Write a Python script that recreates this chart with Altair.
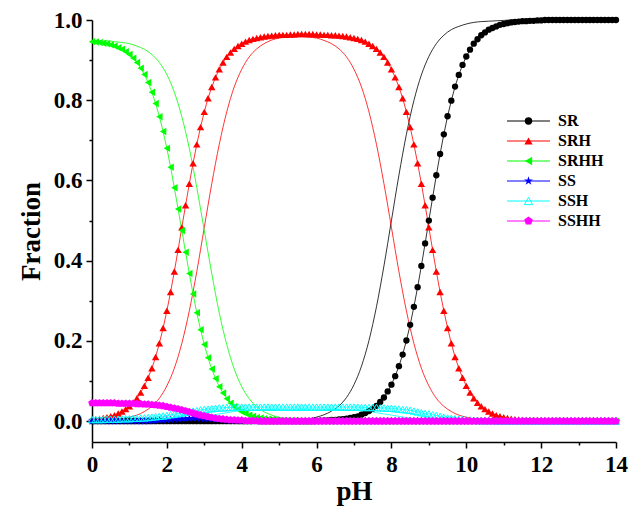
import altair as alt
import pandas as pd

# ---------------- data ----------------
PH = [
    0.0, 0.1, 0.2, 0.3, 0.4, 0.5, 0.6, 0.7, 0.8, 0.9,
    1.0, 1.1, 1.2, 1.3, 1.4, 1.5, 1.6, 1.7, 1.8, 1.9,
    2.0, 2.1, 2.2, 2.3, 2.4, 2.5, 2.6, 2.7, 2.8, 2.9,
    3.0, 3.1, 3.2, 3.3, 3.4, 3.5, 3.6, 3.7, 3.8, 3.9,
    4.0, 4.1, 4.2, 4.3, 4.4, 4.5, 4.6, 4.7, 4.8, 4.9,
    5.0, 5.1, 5.2, 5.3, 5.4, 5.5, 5.6, 5.7, 5.8, 5.9,
    6.0, 6.1, 6.2, 6.3, 6.4, 6.5, 6.6, 6.7, 6.8, 6.9,
    7.0, 7.1, 7.2, 7.3, 7.4, 7.5, 7.6, 7.7, 7.8, 7.9,
    8.0, 8.1, 8.2, 8.3, 8.4, 8.5, 8.6, 8.7, 8.8, 8.9,
    9.0, 9.1, 9.2, 9.3, 9.4, 9.5, 9.6, 9.7, 9.8, 9.9,
    10.0, 10.1, 10.2, 10.3, 10.4, 10.5, 10.6, 10.7, 10.8, 10.9,
    11.0, 11.1, 11.2, 11.3, 11.4, 11.5, 11.6, 11.7, 11.8, 11.9,
    12.0, 12.1, 12.2, 12.3, 12.4, 12.5, 12.6, 12.7, 12.8, 12.9,
    13.0, 13.1, 13.2, 13.3, 13.4, 13.5, 13.6, 13.7, 13.8, 13.9,
    14.0,
]

SR = [
    0, 0, 0, 0, 0, 0, 0, 0, 0, 0,
    0, 0, 0, 0, 0, 0, 0, 0, 0, 0,
    0, 0, 0, 0, 0, 0, 0, 0, 0, 0,
    0, 0, 0, 0, 0, 0, 0, 0, 0, 0,
    0, 0, 0, 0, 0, 0, 0, 0, 0, 0,
    0, 0, 0, 0, 0, 0, 0, 0, 0, 0,
    0.001, 0.001, 0.002, 0.002, 0.003, 0.003, 0.004, 0.005, 0.006, 0.008,
    0.010, 0.012, 0.016, 0.020, 0.025, 0.031, 0.038, 0.048, 0.059, 0.074,
    0.091, 0.112, 0.137, 0.166, 0.201, 0.240, 0.285, 0.334, 0.387, 0.443,
    0.500, 0.557, 0.613, 0.666, 0.715, 0.760, 0.799, 0.834, 0.863, 0.888,
    0.909, 0.926, 0.941, 0.952, 0.962, 0.969, 0.976, 0.980, 0.984, 0.988,
    0.990, 0.992, 0.994, 0.995, 0.996, 0.997, 0.997, 0.998, 0.998, 0.999,
    0.999, 1.0, 1.0, 1.0, 1.0, 1.0, 1.0, 1.0, 1.0, 1.0,
    1.0, 1.0, 1.0, 1.0, 1.0, 1.0, 1.0, 1.0, 1.0, 1.0,
    1.0,
]

SRH = [
    0.004, 0.005, 0.006, 0.008, 0.010, 0.012, 0.015, 0.019, 0.024, 0.030,
    0.037, 0.046, 0.057, 0.071, 0.088, 0.108, 0.132, 0.160, 0.194, 0.232,
    0.275, 0.322, 0.373, 0.427, 0.483, 0.538, 0.592, 0.643, 0.690, 0.733,
    0.771, 0.805, 0.833, 0.857, 0.877, 0.894, 0.908, 0.919, 0.928, 0.935,
    0.941, 0.946, 0.950, 0.953, 0.955, 0.957, 0.959, 0.960, 0.961, 0.962,
    0.963, 0.963, 0.963, 0.964, 0.964, 0.965, 0.965, 0.965, 0.965, 0.965,
    0.964, 0.964, 0.963, 0.963, 0.962, 0.962, 0.961, 0.960, 0.959, 0.957,
    0.955, 0.953, 0.950, 0.946, 0.941, 0.935, 0.928, 0.919, 0.908, 0.894,
    0.877, 0.857, 0.833, 0.805, 0.771, 0.733, 0.690, 0.643, 0.592, 0.538,
    0.483, 0.427, 0.373, 0.322, 0.275, 0.232, 0.194, 0.160, 0.132, 0.108,
    0.088, 0.071, 0.057, 0.046, 0.037, 0.030, 0.024, 0.019, 0.015, 0.012,
    0.010, 0.008, 0.006, 0.005, 0.004, 0.003, 0.002, 0.002, 0.002, 0.001,
    0.001, 0, 0, 0, 0, 0, 0, 0, 0, 0,
    0, 0, 0, 0, 0, 0, 0, 0, 0, 0,
    0,
]

SRHH = [
    0.946, 0.945, 0.944, 0.942, 0.941, 0.938, 0.935, 0.931, 0.927, 0.921,
    0.914, 0.905, 0.894, 0.880, 0.864, 0.844, 0.820, 0.792, 0.759, 0.722,
    0.680, 0.633, 0.582, 0.529, 0.475, 0.421, 0.368, 0.317, 0.270, 0.228,
    0.191, 0.158, 0.130, 0.106, 0.086, 0.070, 0.056, 0.045, 0.036, 0.029,
    0.023, 0.019, 0.015, 0.012, 0.009, 0.008, 0.006, 0.005, 0.004, 0.003,
    0.002, 0.002, 0.002, 0.001, 0.001, 0, 0, 0, 0, 0,
    0, 0, 0, 0, 0, 0, 0, 0, 0, 0,
    0, 0, 0, 0, 0, 0, 0, 0, 0, 0,
    0, 0, 0, 0, 0, 0, 0, 0, 0, 0,
    0, 0, 0, 0, 0, 0, 0, 0, 0, 0,
    0, 0, 0, 0, 0, 0, 0, 0, 0, 0,
    0, 0, 0, 0, 0, 0, 0, 0, 0, 0,
    0, 0, 0, 0, 0, 0, 0, 0, 0, 0,
    0, 0, 0, 0, 0, 0, 0, 0, 0, 0,
    0,
]

SS = [
    0, 0, 0, 0, 0, 0, 0, 0, 0, 0,
    0, 0, 0, 0, 0, 0, 0.001, 0.001, 0.002, 0.002,
    0.003, 0.004, 0.005, 0.005, 0.006, 0.006, 0.007, 0.007, 0.007, 0.007,
    0.006, 0.006, 0.005, 0.004, 0.004, 0.003, 0.002, 0.002, 0.001, 0.001,
    0, 0, 0, 0, 0, 0, 0, 0, 0, 0,
    0, 0, 0, 0, 0, 0, 0, 0, 0, 0,
    0, 0, 0, 0, 0, 0, 0, 0, 0, 0,
    0, 0, 0, 0, 0, 0, 0, 0, 0, 0,
    0, 0, 0, 0, 0, 0, 0, 0, 0, 0,
    0, 0, 0, 0, 0, 0, 0, 0, 0, 0,
    0, 0, 0, 0, 0, 0, 0, 0, 0, 0,
    0, 0, 0, 0, 0, 0, 0, 0, 0, 0,
    0, 0, 0, 0, 0, 0, 0, 0, 0, 0,
    0, 0, 0, 0, 0, 0, 0, 0, 0, 0,
    0,
]

SSH = [
    0.004, 0.004, 0.004, 0.004, 0.005, 0.005, 0.005, 0.005, 0.006, 0.006,
    0.006, 0.007, 0.007, 0.008, 0.008, 0.009, 0.010, 0.011, 0.012, 0.013,
    0.014, 0.016, 0.017, 0.019, 0.020, 0.022, 0.023, 0.025, 0.026, 0.028,
    0.029, 0.030, 0.031, 0.032, 0.033, 0.033, 0.034, 0.034, 0.035, 0.035,
    0.035, 0.035, 0.035, 0.035, 0.035, 0.035, 0.035, 0.035, 0.035, 0.035,
    0.035, 0.035, 0.035, 0.035, 0.035, 0.035, 0.035, 0.035, 0.035, 0.035,
    0.035, 0.035, 0.035, 0.035, 0.035, 0.035, 0.035, 0.035, 0.035, 0.035,
    0.035, 0.035, 0.034, 0.034, 0.034, 0.034, 0.034, 0.033, 0.033, 0.032,
    0.032, 0.031, 0.030, 0.029, 0.028, 0.027, 0.025, 0.023, 0.021, 0.019,
    0.018, 0.016, 0.014, 0.012, 0.010, 0.008, 0.007, 0.006, 0.005, 0.004,
    0.003, 0.003, 0.002, 0.002, 0.001, 0.001, 0.001, 0.001, 0.001, 0,
    0, 0, 0, 0, 0, 0, 0, 0, 0, 0,
    0, 0, 0, 0, 0, 0, 0, 0, 0, 0,
    0, 0, 0, 0, 0, 0, 0, 0, 0, 0,
    0,
]

SSHH = [
    0.045, 0.045, 0.045, 0.045, 0.045, 0.045, 0.045, 0.044, 0.044, 0.044,
    0.044, 0.044, 0.043, 0.043, 0.042, 0.042, 0.041, 0.040, 0.039, 0.038,
    0.036, 0.034, 0.032, 0.030, 0.028, 0.025, 0.023, 0.020, 0.017, 0.015,
    0.013, 0.011, 0.009, 0.007, 0.006, 0.005, 0.004, 0.003, 0.003, 0.002,
    0.002, 0.001, 0.001, 0.001, 0.001, 0, 0, 0, 0, 0,
    0, 0, 0, 0, 0, 0, 0, 0, 0, 0,
    0, 0, 0, 0, 0, 0, 0, 0, 0, 0,
    0, 0, 0, 0, 0, 0, 0, 0, 0, 0,
    0, 0, 0, 0, 0, 0, 0, 0, 0, 0,
    0, 0, 0, 0, 0, 0, 0, 0, 0, 0,
    0, 0, 0, 0, 0, 0, 0, 0, 0, 0,
    0, 0, 0, 0, 0, 0, 0, 0, 0, 0,
    0, 0, 0, 0, 0, 0, 0, 0, 0, 0,
    0, 0, 0, 0, 0, 0, 0, 0, 0, 0,
    0,
]

# thin (unmarked) curves, read every 0.2 pH
PH2 = [
    0.0, 0.2, 0.4, 0.6, 0.8, 1.0, 1.2, 1.4, 1.6, 1.8,
    2.0, 2.2, 2.4, 2.6, 2.8, 3.0, 3.2, 3.4, 3.6, 3.8,
    4.0, 4.2, 4.4, 4.6, 4.8, 5.0, 5.2, 5.4, 5.6, 5.8,
    6.0, 6.2, 6.4, 6.6, 6.8, 7.0, 7.2, 7.4, 7.6, 7.8,
    8.0, 8.2, 8.4, 8.6, 8.8, 9.0, 9.2, 9.4, 9.6, 9.8,
    10.0, 10.2, 10.4, 10.6, 10.8, 11.0, 11.2, 11.4, 11.6, 11.8,
    12.0, 12.2, 12.4, 12.6, 12.8, 13.0, 13.2, 13.4, 13.6, 13.8,
    14.0,
]

SR_T = [
    0, 0, 0, 0, 0, 0, 0, 0, 0, 0,
    0, 0, 0, 0, 0, 0, 0, 0, 0, 0,
    0, 0, 0, 0, 0, 0.001, 0.002, 0.003, 0.004, 0.006,
    0.010, 0.016, 0.025, 0.038, 0.059, 0.091, 0.137, 0.201, 0.285, 0.387,
    0.500, 0.613, 0.715, 0.799, 0.863, 0.909, 0.941, 0.962, 0.976, 0.984,
    0.990, 0.994, 0.996, 0.997, 0.998, 0.999, 1.0, 1.0, 1.0, 1.0,
    1.0, 1.0, 1.0, 1.0, 1.0, 1.0, 1.0, 1.0, 1.0, 1.0,
    1.0,
]

SRH_T = [
    0.001, 0.002, 0.002, 0.004, 0.006, 0.010, 0.015, 0.024, 0.037, 0.057,
    0.088, 0.132, 0.194, 0.275, 0.373, 0.483, 0.592, 0.690, 0.771, 0.833,
    0.877, 0.908, 0.928, 0.941, 0.950, 0.955, 0.957, 0.959, 0.959, 0.957,
    0.955, 0.949, 0.941, 0.928, 0.908, 0.877, 0.833, 0.771, 0.690, 0.592,
    0.483, 0.373, 0.275, 0.194, 0.132, 0.088, 0.057, 0.037, 0.024, 0.015,
    0.010, 0.006, 0.004, 0.002, 0.002, 0.001, 0, 0, 0, 0,
    0, 0, 0, 0, 0, 0, 0, 0, 0, 0,
    0,
]

SRHH_T = [
    0.949, 0.948, 0.948, 0.946, 0.944, 0.941, 0.935, 0.927, 0.914, 0.894,
    0.864, 0.820, 0.759, 0.680, 0.582, 0.475, 0.368, 0.270, 0.191, 0.130,
    0.086, 0.056, 0.036, 0.023, 0.015, 0.009, 0.006, 0.004, 0.002, 0.002,
    0.001, 0, 0, 0, 0, 0, 0, 0, 0, 0,
    0, 0, 0, 0, 0, 0, 0, 0, 0, 0,
    0, 0, 0, 0, 0, 0, 0, 0, 0, 0,
    0, 0, 0, 0, 0, 0, 0, 0, 0, 0,
    0,
]

SS_T = [
    0, 0, 0, 0, 0, 0, 0, 0, 0, 0,
    0.001, 0.002, 0.003, 0.004, 0.005, 0.005, 0.005, 0.004, 0.003, 0.002,
    0.001, 0.001, 0, 0, 0, 0, 0, 0, 0, 0,
    0, 0, 0, 0, 0, 0, 0, 0, 0, 0,
    0, 0, 0, 0, 0, 0, 0, 0, 0, 0,
    0, 0, 0, 0, 0, 0, 0, 0, 0, 0,
    0, 0, 0, 0, 0, 0, 0, 0, 0, 0,
    0,
]

SSH_T = [
    0, 0, 0, 0, 0, 0, 0, 0, 0.001, 0.001,
    0.002, 0.003, 0.004, 0.006, 0.009, 0.012, 0.015, 0.018, 0.021, 0.024,
    0.026, 0.027, 0.028, 0.029, 0.029, 0.030, 0.030, 0.030, 0.030, 0.030,
    0.030, 0.030, 0.029, 0.029, 0.028, 0.027, 0.026, 0.024, 0.021, 0.018,
    0.015, 0.012, 0.009, 0.006, 0.004, 0.003, 0.002, 0.001, 0.001, 0,
    0, 0, 0, 0, 0, 0, 0, 0, 0, 0,
    0, 0, 0, 0, 0, 0, 0, 0, 0, 0,
    0,
]

SSHH_T = [
    0.045, 0.045, 0.045, 0.045, 0.045, 0.044, 0.044, 0.044, 0.043, 0.042,
    0.040, 0.038, 0.034, 0.030, 0.025, 0.020, 0.015, 0.011, 0.007, 0.005,
    0.003, 0.002, 0.001, 0.001, 0, 0, 0, 0, 0, 0,
    0, 0, 0, 0, 0, 0, 0, 0, 0, 0,
    0, 0, 0, 0, 0, 0, 0, 0, 0, 0,
    0, 0, 0, 0, 0, 0, 0, 0, 0, 0,
    0, 0, 0, 0, 0, 0, 0, 0, 0, 0,
    0,
]

NAMES = ["SR", "SRH", "SRHH", "SS", "SSH", "SSHH"]
MARKED = [SR, SRH, SRHH, SS, SSH, SSHH]
THIN = [SR_T, SRH_T, SRHH_T, SS_T, SSH_T, SSHH_T]

for s in MARKED:
    assert len(s) == len(PH), len(s)
for s in THIN:
    assert len(s) == len(PH2), len(s)

# ---------------- styles ----------------
COLORS = ["#000000", "#ff0000", "#00ff00", "#0000ff", "#00ffff", "#ff00ff"]
STAR = ("M0,-1L0.225,-0.309L0.951,-0.309L0.363,0.118L0.588,0.809L0,0.382"
        "L-0.588,0.809L-0.363,0.118L-0.951,-0.309L-0.225,-0.309Z")
PENT = "M0,-1L0.951,-0.309L0.588,0.809L-0.588,0.809L-0.951,-0.309Z"
SHAPES = ["circle", "triangle-up", "triangle-left", STAR, "triangle-up", PENT]
SIZES = [40, 55, 55, 75, 55, 65]
FILLED = [True, True, True, True, False, True]
FONT = "Liberation Serif"

marked_df = pd.concat(
    [pd.DataFrame({"pH": PH, "frac": v, "name": n}) for n, v in zip(NAMES, MARKED)],
    ignore_index=True,
)
thin_df = pd.concat(
    [pd.DataFrame({"pH": PH2, "frac": v, "name": n}) for n, v in zip(NAMES, THIN)],
    ignore_index=True,
)

XS = alt.Scale(domain=[0, 14], nice=False, zero=False)
YS = alt.Scale(domain=[-0.052, 1.0], nice=False, zero=False)
XAX = alt.Axis(
    title="pH", values=list(range(15)),
    labelExpr="datum.value % 2 == 1 ? '' : datum.label",
    tickSize={"condition": {"test": "datum.value % 2 == 1", "value": 3}, "value": 6},
    labelFlush=False, labelOverlap=False, labelPadding=5, titlePadding=2,
)
YAX = alt.Axis(
    title="Fraction", values=[round(0.1 * i, 1) for i in range(11)], format=".1f",
    labelExpr="round(datum.value * 10) % 2 == 1 ? '' : datum.label",
    tickSize={"condition": {"test": "round(datum.value * 10) % 2 == 1", "value": 3}, "value": 6},
    labelOverlap=False, labelPadding=4, titlePadding=8,
)
X = alt.X("pH:Q", scale=XS, axis=XAX)
Y = alt.Y("frac:Q", scale=YS, axis=YAX)
STROKE = alt.Stroke("name:N", scale=alt.Scale(domain=NAMES, range=COLORS), legend=None)

data_layers = [
    alt.Chart(thin_df).mark_line(strokeWidth=0.8, interpolate="monotone").encode(
        x=X, y=Y, stroke=STROKE),
    alt.Chart(marked_df).mark_line(strokeWidth=0.8).encode(x=X, y=Y, stroke=STROKE),
]
for i, n in enumerate(NAMES):
    d = marked_df[marked_df["name"] == n]
    data_layers.append(
        alt.Chart(d).mark_point(
            shape=SHAPES[i], size=SIZES[i], filled=FILLED[i], color=COLORS[i],
            opacity=1, strokeWidth=1,
        ).encode(x=X, y=Y)
    )

# ---------------- legend ----------------
LY = alt.Y("row:Q", scale=alt.Scale(domain=[0, 5], range=[101, 201]), axis=None)
legend_layers = []
for i, n in enumerate(NAMES):
    ld = pd.DataFrame({"row": [i], "name": [n]})
    legend_layers.append(
        alt.Chart(ld).mark_rule(color=COLORS[i], strokeWidth=1).encode(
            x=alt.value(415), x2=alt.value(458), y=LY)
    )
    legend_layers.append(
        alt.Chart(ld).mark_point(
            shape=SHAPES[i], size=SIZES[i] + 15, filled=FILLED[i], color=COLORS[i],
            opacity=1, strokeWidth=1,
        ).encode(x=alt.value(436.5), y=LY)
    )
    legend_layers.append(
        alt.Chart(ld).mark_text(
            align="left", baseline="middle", font=FONT, fontSize=16,
            fontWeight="bold", color="black",
        ).encode(x=alt.value(466), y=LY, text="name:N")
    )

chart = (
    alt.layer(alt.layer(*data_layers), alt.layer(*legend_layers))
    .resolve_scale(y="independent")
    .properties(
        width=524, height=422,
        autosize=alt.AutoSizeParams(type="none"),
        padding={"left": 84, "top": 12, "right": 20, "bottom": 66},
    )
    .configure_view(stroke=None)
    .configure_axis(
        labelFont=FONT, titleFont=FONT, labelFontWeight="bold", titleFontWeight="bold",
        labelFontSize=23, titleFontSize=27, labelColor="black", titleColor="black",
        domainColor="black", tickColor="black", domainWidth=1.5, tickWidth=1.5,
        grid=False,
    )
)

chart.save("out.html", embed_options={"renderer": "svg", "actions": False})
